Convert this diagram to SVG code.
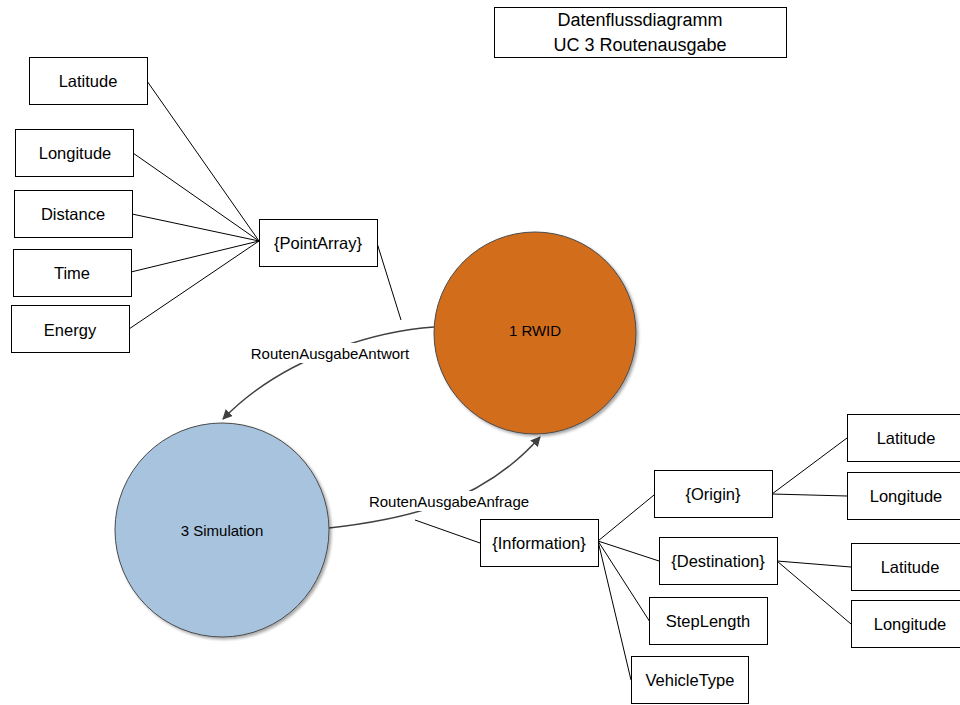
<svg xmlns="http://www.w3.org/2000/svg" width="960" height="705" viewBox="0 0 960 705">
  <defs>
    <marker id="arrow" viewBox="0 0 10 10" refX="9" refY="5" markerWidth="10" markerHeight="10" markerUnits="userSpaceOnUse" orient="auto">
      <path d="M0,0 L10,5 L0,10 z" fill="#404040"/>
    </marker>
    <filter id="shadow" x="-10%" y="-10%" width="130%" height="130%">
      <feGaussianBlur in="SourceAlpha" stdDeviation="1.5"/>
      <feOffset dx="2" dy="2" result="b"/>
      <feComponentTransfer><feFuncA type="linear" slope="0.35"/></feComponentTransfer>
      <feMerge><feMergeNode/><feMergeNode in="SourceGraphic"/></feMerge>
    </filter>
  </defs>
  <style>
    .box { fill: #ffffff; stroke: #000000; stroke-width: 1; }
    .lbl { font-family: "Liberation Sans", Arial, sans-serif; font-size: 16.5px; fill: #000; text-anchor: middle; dominant-baseline: central; }
    .title { font-family: "Liberation Sans", Arial, sans-serif; font-size: 18px; fill: #000; text-anchor: middle; dominant-baseline: central; }
    .small { font-family: "Liberation Sans", Arial, sans-serif; font-size: 15px; fill: #000; text-anchor: middle; dominant-baseline: central; }
    .link { fill: none; stroke: #000; stroke-width: 1; }
    .flow { fill: none; stroke: #404040; stroke-width: 1.5; }
    .halo { fill: #ffffff; }
  </style>

  <!-- title -->
  <g id="title">
    <rect class="box" x="494.5" y="7.5" width="292" height="50"/>
    <text class="title" x="640" y="20">Datenflussdiagramm</text>
    <text class="title" x="640" y="45">UC 3 Routenausgabe</text>
  </g>

  <!-- connectors -->
  <g id="connectors">
    <line class="link" x1="147" y1="81" x2="259" y2="241"/>
    <line class="link" x1="133" y1="153" x2="259" y2="241"/>
    <line class="link" x1="132" y1="214" x2="259" y2="241"/>
    <line class="link" x1="131" y1="272" x2="259" y2="241"/>
    <line class="link" x1="129" y1="329" x2="259" y2="241"/>
    <line class="link" x1="377" y1="243" x2="401" y2="320"/>

    <path class="flow" d="M434,327 C390,330 290,350 223,419" marker-end="url(#arrow)"/>
    <path class="flow" d="M329,528 C400,520 480,505 540,437" marker-end="url(#arrow)"/>
    <line class="link" x1="415" y1="520" x2="480" y2="543"/>

    <line class="link" x1="598" y1="541" x2="654" y2="495"/>
    <line class="link" x1="598" y1="541" x2="659" y2="561"/>
    <line class="link" x1="598" y1="541" x2="650" y2="622"/>
    <line class="link" x1="598" y1="541" x2="631" y2="680"/>
    <line class="link" x1="772" y1="494" x2="847" y2="438"/>
    <line class="link" x1="772" y1="494" x2="847" y2="496"/>
    <line class="link" x1="777" y1="561" x2="851" y2="567"/>
    <line class="link" x1="777" y1="561" x2="851" y2="624"/>

    <rect class="halo" x="245" y="343" width="170" height="20"/>
    <text class="small" x="330" y="353">RoutenAusgabeAntwort</text>
    <rect class="halo" x="364" y="491" width="170" height="20"/>
    <text class="small" x="449" y="501">RoutenAusgabeAnfrage</text>
  </g>

  <!-- processes -->
  <g id="rwid">
    <circle cx="535" cy="333" r="101" fill="#D26D1E" stroke="#4a4a4a" stroke-width="1" filter="url(#shadow)"/>
    <text class="small" x="535" y="330">1 RWID</text>
  </g>
  <g id="simulation">
    <circle cx="222" cy="530" r="107" fill="#A7C3DE" stroke="#4a4a4a" stroke-width="1" filter="url(#shadow)"/>
    <text class="small" x="222" y="530">3 Simulation</text>
  </g>

  <!-- point array fields -->
  <g id="pa-latitude"><rect class="box" x="29.5" y="57.5" width="118" height="47"/><text class="lbl" x="88" y="81">Latitude</text></g>
  <g id="pa-longitude"><rect class="box" x="15.5" y="129.5" width="118" height="47"/><text class="lbl" x="75" y="153">Longitude</text></g>
  <g id="pa-distance"><rect class="box" x="14.5" y="190.5" width="118" height="47"/><text class="lbl" x="73" y="214">Distance</text></g>
  <g id="pa-time"><rect class="box" x="13.5" y="249.5" width="118" height="47"/><text class="lbl" x="72" y="273">Time</text></g>
  <g id="pa-energy"><rect class="box" x="11.5" y="305.5" width="118" height="47"/><text class="lbl" x="70" y="330">Energy</text></g>
  <g id="pointarray"><rect class="box" x="259.5" y="219.5" width="118" height="47"/><text class="lbl" x="318" y="243">{PointArray}</text></g>

  <!-- request information -->
  <g id="information"><rect class="box" x="480.5" y="519.5" width="118" height="47"/><text class="lbl" x="539" y="543">{Information}</text></g>
  <g id="origin"><rect class="box" x="654.5" y="470.5" width="118" height="47"/><text class="lbl" x="713" y="494">{Origin}</text></g>
  <g id="destination"><rect class="box" x="659.5" y="537.5" width="118" height="47"/><text class="lbl" x="718" y="561">{Destination}</text></g>
  <g id="steplength"><rect class="box" x="649.5" y="597.5" width="118" height="47"/><text class="lbl" x="708" y="621">StepLength</text></g>
  <g id="vehicletype"><rect class="box" x="631.5" y="656.5" width="117" height="47"/><text class="lbl" x="690" y="680">VehicleType</text></g>
  <g id="origin-latitude"><rect class="box" x="847.5" y="414.5" width="118" height="47"/><text class="lbl" x="906" y="438">Latitude</text></g>
  <g id="origin-longitude"><rect class="box" x="847.5" y="472.5" width="118" height="47"/><text class="lbl" x="906" y="496">Longitude</text></g>
  <g id="destination-latitude"><rect class="box" x="851.5" y="543.5" width="118" height="47"/><text class="lbl" x="910" y="567">Latitude</text></g>
  <g id="destination-longitude"><rect class="box" x="851.5" y="600.5" width="118" height="47"/><text class="lbl" x="910" y="624">Longitude</text></g>
</svg>
